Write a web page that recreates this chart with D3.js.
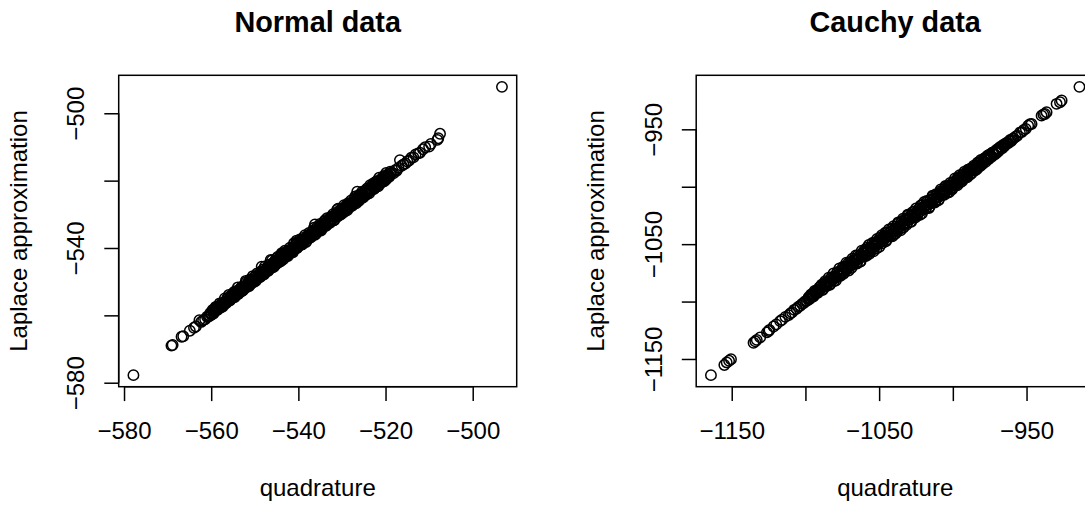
<!DOCTYPE html>
<html>
<head>
<meta charset="utf-8">
<title>Laplace approximation vs quadrature</title>
<script src="https://cdn.jsdelivr.net/npm/d3@7"></script>
<style>
  body { margin: 0; background: #fff; }
  svg { display: block; overflow: hidden; font-family: "Liberation Sans", Arial, Helvetica, sans-serif; }
</style>
</head>
<body>
<svg id="chart" width="1085" height="506"></svg>
<script>
// ---- data (log marginal likelihoods) ----
const titles = ["Normal data", "Cauchy data"];
const xLabel = "quadrature";
const yLabel = "Laplace approximation";

const normalQuad = [
  -577.84, -569.12, -568.85, -566.80, -566.42, -564.90, -563.95, -563.52, -562.70, -562.31, -561.85, -561.40, -560.95, -560.60,
  -560.31, -560.02, -559.86, -559.55, -559.40, -559.08, -558.93, -558.61, -558.47, -558.12,
  -557.96, -557.70, -557.49, -557.22, -557.03, -556.77, -556.55, -556.30, -556.06, -555.88,
  -555.60, -555.41, -555.14, -554.92, -554.71, -554.45, -554.26, -553.99, -553.78, -553.55,
  -553.31, -553.10, -552.84, -552.66, -552.39, -552.18, -551.95, -551.71, -551.50, -551.24,
  -551.03, -550.80, -550.58, -550.33, -550.12, -549.87, -549.66, -549.42, -549.19, -548.97,
  -548.72, -548.50, -548.27, -548.05, -547.81, -547.60, -547.36, -547.13, -546.90, -546.68,
  -546.44, -546.21, -545.99, -545.76, -545.53, -545.31, -545.07, -544.85, -544.62, -544.40,
  -544.16, -543.94, -543.70, -543.48, -543.25, -543.02, -542.79, -542.57, -542.33, -542.11,
  -541.88, -541.65, -541.42, -541.19, -540.97, -540.73, -540.51, -540.27, -540.05, -539.82,
  -539.58, -539.36, -539.13, -538.90, -538.68, -538.44, -538.22, -537.99, -537.76, -537.53,
  -537.30, -537.07, -536.85, -536.61, -536.39, -536.16, -535.93, -535.70, -535.47, -535.24,
  -535.01, -534.79, -534.55, -534.33, -534.10, -533.87, -533.64, -533.42, -533.18, -532.96,
  -532.73, -532.50, -532.27, -532.04, -531.81, -531.59, -531.35, -531.13, -530.89, -530.67,
  -530.44, -530.21, -529.98, -529.75, -529.52, -529.30, -529.06, -528.84, -528.60, -528.38,
  -528.15, -527.92, -527.69, -527.47, -527.23, -527.01, -526.77, -526.55, -526.31, -526.09,
  -525.86, -525.63, -525.40, -525.18, -524.94, -524.72, -524.48, -524.26, -524.02, -523.80,
  -523.57, -523.34, -523.11, -522.88, -522.65, -522.42, -522.19, -521.96, -521.73, -521.50,
  -521.27, -521.04, -520.81, -520.58, -520.35, -520.12, -519.89, -519.66, -519.43, -519.20,
  -518.90, -518.55, -518.20, -517.80, -517.45, -517.05, -516.70, -516.30, -515.90, -515.45,
  -515.00, -514.60, -514.10, -513.60, -513.10, -512.50, -512.10, -511.40, -510.90, -510.00,
  -509.60, -508.10, -507.90, -507.50, -493.29,
  -548.42, -546.35, -543.83, -540.39, -536.19, -530.90, -526.50, -522.20,
  -560.20, -559.93, -559.68, -559.47, -559.19, -558.99, -558.74, -558.52, -558.27, -558.03,
  -557.83, -557.58, -557.35, -557.11, -556.88, -556.66, -556.41, -556.18, -555.97, -555.72,
  -555.49, -555.26, -555.03, -554.80, -554.57, -554.35, -554.11, -553.88, -553.66, -553.42,
  -553.20, -552.97, -552.74, -552.51, -552.28, -552.05, -551.82, -551.59, -551.36, -551.13,
  -550.90, -550.67, -550.44, -550.21, -549.98, -549.75, -549.52, -549.29, -549.06, -548.83,
  -548.60, -548.37, -548.14, -547.91, -547.68, -547.45, -547.22, -546.99, -546.76, -546.53,
  -546.30, -546.07, -545.84, -545.61, -545.38, -545.15, -544.92, -544.69, -544.46, -544.23,
  -544.00, -543.77, -543.54, -543.31, -543.08, -542.85, -542.62, -542.39, -542.16, -541.93,
  -541.70, -541.47, -541.24, -541.01, -540.78, -540.55, -540.32, -540.09, -539.86, -539.63,
  -539.40, -539.17, -538.94, -538.71, -538.48, -538.25, -538.02, -537.79, -537.56, -537.33,
  -537.10, -536.87, -536.64, -536.41, -536.18, -535.95, -535.72, -535.49, -535.26, -535.03,
  -534.80, -534.57, -534.34, -534.11, -533.88, -533.65, -533.42, -533.19, -532.96, -532.73,
  -532.50, -532.27, -532.04, -531.81, -531.58, -531.35, -531.12, -530.89, -530.66, -530.43,
  -530.20, -529.97, -529.74, -529.51, -529.28, -529.05, -528.82, -528.59, -528.36, -528.13,
  -527.90, -527.67, -527.44, -527.21, -526.98, -526.75, -526.52, -526.29, -526.06, -525.83,
  -525.60, -525.37, -525.14, -524.91, -524.68, -524.45, -524.22, -523.99, -523.76, -523.53,
  -523.30, -523.07, -522.84, -522.61, -522.38, -522.15, -521.92, -521.69, -521.46, -521.23,
  -521.00, -520.77, -520.54, -520.31, -520.08, -519.85, -519.62, -519.39, -519.16, -518.93
];
const normalLaplace = [
  -577.76, -568.98, -568.80, -566.35, -566.20, -564.55, -563.70, -563.30, -561.45, -561.95, -561.50, -561.15, -560.40, -560.35,
  -560.11, -559.42, -559.76, -558.65, -559.10, -558.58, -557.73, -558.41, -557.77, -557.72,
  -557.16, -557.60, -556.99, -556.22, -556.73, -556.17, -556.35, -554.90, -555.66, -555.18,
  -555.30, -554.31, -554.64, -554.72, -553.91, -552.85, -553.86, -553.09, -553.68, -552.95,
  -552.01, -552.90, -552.14, -552.26, -551.39, -551.88, -550.15, -551.21, -550.60, -551.04,
  -550.43, -549.60, -550.28, -549.53, -550.02, -548.37, -549.16, -548.42, -548.79, -548.27,
  -548.52, -547.40, -547.67, -546.35, -547.51, -546.70, -546.86, -545.83, -546.80, -545.88,
  -546.04, -545.21, -545.79, -544.36, -544.83, -545.01, -543.17, -544.25, -543.52, -544.20,
  -543.26, -543.44, -542.50, -543.38, -542.55, -541.42, -542.49, -541.57, -541.83, -540.81,
  -541.68, -540.85, -539.92, -540.79, -539.87, -540.13, -538.51, -539.97, -539.15, -538.62,
  -539.08, -537.66, -538.93, -537.90, -538.08, -537.14, -538.12, -537.19, -536.26, -537.13,
  -536.20, -536.77, -535.95, -534.81, -535.89, -534.96, -535.73, -535.00, -534.07, -534.84,
  -534.21, -533.19, -534.25, -533.33, -533.50, -531.77, -533.44, -532.12, -532.48, -532.56,
  -531.53, -532.00, -531.37, -530.54, -531.71, -530.79, -530.25, -530.73, -529.19, -530.07,
  -530.14, -529.21, -529.28, -528.35, -529.32, -528.40, -527.46, -528.34, -527.50, -528.08,
  -526.85, -527.32, -527.49, -526.47, -526.43, -525.11, -526.37, -525.35, -525.61, -525.99,
  -524.96, -524.13, -524.90, -524.08, -524.64, -523.02, -523.68, -524.06, -522.72, -523.20,
  -522.57, -522.94, -521.51, -522.18, -522.45, -521.22, -521.69, -520.16, -520.83, -521.20,
  -520.47, -519.64, -520.51, -519.48, -519.75, -518.62, -519.69, -518.76, -518.23, -518.70,
  -518.10, -517.60, -517.85, -516.90, -517.05, -516.20, -513.90, -515.60, -515.20, -514.90,
  -514.30, -514.00, -513.20, -513.10, -512.20, -511.90, -511.70, -510.70, -510.10, -509.90,
  -509.10, -507.90, -507.40, -506.10, -492.15,
  -545.55, -543.56, -541.57, -537.80, -533.00, -528.30, -523.30, -520.30,
  -559.30, -559.63, -558.38, -559.47, -558.49, -557.49, -558.34, -557.52, -558.07, -556.43,
  -557.33, -556.38, -557.35, -556.31, -554.98, -556.36, -555.31, -555.58, -553.97, -555.62,
  -554.09, -554.86, -554.13, -553.10, -554.57, -553.15, -553.51, -551.68, -553.36, -552.42,
  -552.60, -551.47, -552.64, -551.41, -551.58, -549.75, -551.42, -550.29, -551.36, -549.33,
  -550.60, -549.67, -548.34, -549.71, -548.58, -549.75, -547.62, -548.49, -547.86, -548.63,
  -547.00, -547.97, -547.14, -547.91, -545.48, -546.75, -545.92, -546.79, -544.96, -546.03,
  -545.10, -543.67, -545.24, -545.61, -543.88, -544.25, -544.62, -542.59, -543.66, -542.63,
  -543.90, -541.87, -542.84, -542.01, -540.78, -542.45, -540.92, -542.39, -541.06, -539.93,
  -541.10, -540.27, -541.24, -538.61, -539.88, -539.05, -540.02, -538.29, -539.36, -537.43,
  -538.40, -538.97, -537.04, -538.11, -536.18, -538.25, -536.62, -537.09, -535.56, -536.23,
  -536.70, -535.27, -535.74, -534.01, -536.08, -534.65, -533.72, -534.99, -534.26, -532.83,
  -534.80, -533.17, -533.64, -532.21, -532.78, -533.35, -531.12, -532.39, -531.46, -532.53,
  -530.70, -531.67, -529.94, -531.81, -530.28, -530.45, -528.72, -530.49, -529.66, -528.83,
  -530.00, -528.27, -528.94, -527.31, -528.78, -527.85, -528.82, -526.69, -527.66, -526.73,
  -525.90, -527.37, -526.34, -526.61, -524.68, -526.75, -525.02, -525.39, -524.26, -525.43,
  -524.40, -523.27, -525.04, -523.31, -523.88, -524.05, -522.32, -522.99, -523.76, -521.33,
  -522.70, -521.77, -520.84, -522.41, -521.28, -521.45, -520.42, -521.69, -519.16, -520.33,
  -519.60, -520.27, -518.74, -520.21, -519.08, -517.75, -519.02, -518.09, -518.86, -517.33
];

const cauchyQuad = [
  -1164.1, -1155.0, -1153.4, -1151.8, -1150.5, -1135.2, -1134.0, -1133.0, -1130.7, -1126.1,
  -1125.0, -1124.4, -1121.6, -1119.8, -1117.2, -1115.9, -1113.6, -1111.3, -1110.2, -1109.1,
  -1107.6, -1106.0, -1104.9, -1103.5, -1102.3, -1101.1, -1100.2, -1099.0,
  -1098.2, -1097.4, -1096.7, -1095.8, -1095.1, -1094.2, -1093.5, -1092.6, -1091.8, -1091.1,
  -1090.2, -1089.5, -1088.6, -1087.9, -1087.0, -1086.3, -1085.4, -1084.7, -1083.8, -1083.1,
  -1082.2, -1081.5, -1080.6, -1079.9, -1079.0, -1078.3, -1077.4, -1076.7, -1075.8, -1075.1,
  -1074.2, -1073.5, -1072.6, -1071.9, -1071.0, -1070.3, -1069.4, -1068.7, -1067.8, -1067.1,
  -1066.2, -1065.5, -1064.6, -1063.9, -1063.0, -1062.3, -1061.4, -1060.7, -1059.8, -1059.1,
  -1058.2, -1057.5, -1056.6, -1055.9, -1055.0, -1054.3, -1053.4, -1052.7, -1051.8, -1051.1,
  -1050.2, -1049.5, -1048.6, -1047.9, -1047.0, -1046.3, -1045.4, -1044.7, -1043.8, -1043.1,
  -1042.2, -1041.5, -1040.6, -1039.9, -1039.0, -1038.3, -1037.4, -1036.7, -1035.8, -1035.1,
  -1034.2, -1033.5, -1032.6, -1031.9, -1031.0, -1030.3, -1029.4, -1028.7, -1027.8, -1027.1,
  -1026.2, -1025.5, -1024.6, -1023.9, -1023.0, -1022.3, -1021.4, -1020.7, -1019.8, -1019.1,
  -1018.2, -1017.5, -1016.6, -1015.9, -1015.0, -1014.3, -1013.4, -1012.7, -1011.8, -1011.1,
  -1010.2, -1009.5, -1008.6, -1007.9, -1007.0, -1006.3, -1005.4, -1004.7, -1003.8, -1003.1,
  -1002.2, -1001.5, -1000.6, -999.9, -999.0, -998.3, -997.4, -996.7, -995.8, -995.1,
  -994.2, -993.5, -992.6, -991.9, -991.0, -990.3, -989.4, -988.7, -987.8, -987.1,
  -986.2, -985.4, -984.7, -983.8, -983.0, -982.1, -981.4, -980.5, -979.7, -978.8,
  -978.0, -977.1, -976.3, -975.4, -974.6, -973.7, -972.9, -972.0, -971.1, -970.2,
  -969.3, -968.4, -967.4, -966.5, -965.5, -964.4, -963.4, -962.3, -961.1, -960.0,
  -958.8, -957.5, -956.3, -954.5, -953.2, -951.9, -950.5, -948.9, -947.7, -946.6,
  -939.8, -938.6, -937.5, -936.4, -929.6, -927.3, -926.2, -914.1,
  -1097.8, -1097.0, -1096.2, -1095.4, -1094.6, -1093.8, -1093.0, -1092.2, -1091.4, -1090.6,
  -1089.8, -1089.0, -1088.2, -1087.4, -1086.6, -1085.8, -1085.0, -1084.2, -1083.4, -1082.6,
  -1081.8, -1081.0, -1080.2, -1079.4, -1078.6, -1077.8, -1077.0, -1076.2, -1075.4, -1074.6,
  -1073.8, -1073.0, -1072.2, -1071.4, -1070.6, -1069.8, -1069.0, -1068.2, -1067.4, -1066.6,
  -1065.8, -1065.0, -1064.2, -1063.4, -1062.6, -1061.8, -1061.0, -1060.2, -1059.4, -1058.6,
  -1057.8, -1057.0, -1056.2, -1055.4, -1054.6, -1053.8, -1053.0, -1052.2, -1051.4, -1050.6,
  -1049.8, -1049.0, -1048.2, -1047.4, -1046.6, -1045.8, -1045.0, -1044.2, -1043.4, -1042.6,
  -1041.8, -1041.0, -1040.2, -1039.4, -1038.6, -1037.8, -1037.0, -1036.2, -1035.4, -1034.6,
  -1033.8, -1033.0, -1032.2, -1031.4, -1030.6, -1029.8, -1029.0, -1028.2, -1027.4, -1026.6,
  -1025.8, -1025.0, -1024.2, -1023.4, -1022.6, -1021.8, -1021.0, -1020.2, -1019.4, -1018.6,
  -1017.8, -1017.0, -1016.2, -1015.4, -1014.6, -1013.8, -1013.0, -1012.2, -1011.4, -1010.6,
  -1009.8, -1009.0, -1008.2, -1007.4, -1006.6, -1005.8, -1005.0, -1004.2, -1003.4, -1002.6,
  -1001.8, -1001.0, -1000.2, -999.4, -998.6, -997.8, -997.0, -996.2, -995.4, -994.6,
  -993.8, -993.0, -992.2, -991.4, -990.6, -989.8, -989.0, -988.2, -987.4, -986.6,
  -985.8, -985.0, -984.2, -983.4, -982.6, -981.8, -981.0, -980.2, -979.3, -978.4,
  -977.5, -976.7, -975.8, -975.0, -974.1, -973.3, -972.4, -971.6, -970.7, -969.8,
  -968.9, -967.9, -966.9, -966.0, -964.9, -963.9, -962.8, -961.7, -960.6, -959.4
];
const cauchyLaplace = [
  -1164.1, -1155.2, -1153.0, -1151.6, -1150.2, -1135.9, -1134.6, -1133.4, -1131.2, -1126.8,
  -1125.6, -1124.7, -1121.7, -1119.9, -1117.0, -1115.9, -1113.3, -1111.8, -1110.3, -1109.4,
  -1107.2, -1106.3, -1104.6, -1103.6, -1102.0, -1101.3, -1099.8, -1099.3,
  -1097.8, -1098.0, -1095.5, -1095.7, -1093.3, -1094.5, -1092.6, -1090.3, -1092.6, -1089.6,
  -1090.0, -1086.8, -1089.7, -1086.9, -1083.9, -1085.8, -1085.8, -1082.7, -1082.5, -1084.4,
  -1078.8, -1080.9, -1082.1, -1077.7, -1079.0, -1074.3, -1076.3, -1077.6, -1073.0, -1074.8,
  -1075.9, -1069.9, -1071.2, -1072.1, -1066.6, -1069.5, -1066.9, -1070.6, -1063.9, -1067.0,
  -1064.2, -1066.7, -1059.8, -1062.3, -1065.1, -1059.3, -1061.0, -1056.5, -1060.5, -1056.5,
  -1053.2, -1056.6, -1058.4, -1052.6, -1053.1, -1054.8, -1048.8, -1050.5, -1053.8, -1047.4,
  -1049.5, -1044.3, -1046.2, -1049.3, -1043.2, -1045.2, -1047.6, -1040.2, -1043.6, -1040.2,
  -1043.2, -1036.6, -1039.1, -1036.7, -1040.9, -1037.7, -1032.3, -1034.7, -1036.4, -1031.6,
  -1032.9, -1035.5, -1028.3, -1029.2, -1031.3, -1025.0, -1028.5, -1030.3, -1024.2, -1025.3,
  -1021.5, -1026.8, -1022.5, -1023.9, -1019.1, -1024.4, -1019.7, -1015.8, -1019.4, -1016.5,
  -1019.0, -1013.4, -1015.4, -1017.6, -1011.6, -1013.8, -1008.4, -1010.4, -1012.9, -1008.1,
  -1009.4, -1011.1, -1004.2, -1006.0, -1007.2, -1002.6, -1005.1, -999.9, -1005.2, -1000.9,
  -999.1, -1001.4, -1002.4, -995.9, -997.6, -999.0, -994.6, -992.2, -995.2, -996.3,
  -991.7, -989.3, -993.0, -990.3, -987.5, -991.8, -988.5, -984.8, -986.0, -988.0,
  -983.2, -985.1, -982.5, -984.9, -978.9, -981.1, -981.9, -977.8, -979.1, -975.4,
  -978.6, -975.1, -975.9, -972.1, -973.4, -974.0, -970.3, -971.2, -969.2, -970.4,
  -966.9, -967.9, -965.7, -966.5, -963.4, -963.5, -961.9, -962.0, -959.3, -959.3,
  -957.9, -956.4, -955.6, -952.9, -952.4, -950.6, -949.6, -946.8, -945.6, -945.3,
  -938.1, -937.0, -936.6, -935.1, -927.8, -926.4, -924.9, -913.0,
  -1096.2, -1097.2, -1093.8, -1094.6, -1095.6, -1090.8, -1092.7, -1090.3, -1091.9, -1087.8,
  -1089.3, -1085.4, -1089.8, -1085.3, -1082.3, -1086.6, -1083.8, -1079.2, -1085.4, -1079.7,
  -1081.4, -1075.6, -1078.4, -1081.8, -1075.1, -1077.7, -1071.2, -1077.5, -1073.2, -1069.9,
  -1074.7, -1070.4, -1066.2, -1070.9, -1072.9, -1065.9, -1067.7, -1062.7, -1067.5, -1064.3,
  -1059.9, -1066.9, -1063.2, -1060.0, -1065.2, -1055.7, -1060.8, -1058.2, -1054.6, -1060.1,
  -1055.1, -1050.8, -1056.6, -1054.0, -1049.0, -1056.2, -1049.9, -1051.6, -1045.5, -1048.8,
  -1052.3, -1046.0, -1042.2, -1047.4, -1044.4, -1040.1, -1046.2, -1042.6, -1037.3, -1042.9,
  -1039.2, -1043.2, -1034.4, -1038.6, -1034.8, -1039.2, -1031.0, -1035.2, -1038.0, -1030.2,
  -1027.9, -1032.6, -1029.3, -1033.2, -1024.4, -1028.6, -1025.4, -1030.6, -1022.2, -1026.6,
  -1023.4, -1019.0, -1025.2, -1020.1, -1021.8, -1016.3, -1023.3, -1018.2, -1013.3, -1019.2,
  -1012.4, -1015.4, -1018.6, -1011.4, -1014.4, -1007.8, -1010.4, -1013.7, -1006.6, -1009.6,
  -1011.8, -1005.8, -1002.3, -1007.0, -1004.6, -1007.0, -999.4, -1002.8, -999.6, -1004.8,
  -996.7, -999.2, -1001.2, -996.0, -992.8, -997.6, -998.8, -993.3, -990.0, -993.6,
  -995.2, -990.0, -987.0, -990.8, -991.2, -985.2, -987.0, -989.4, -983.8, -985.4,
  -981.6, -985.8, -982.6, -979.6, -982.6, -979.4, -976.6, -980.6, -977.9, -975.4,
  -976.5, -973.3, -976.0, -972.8, -973.7, -970.4, -970.8, -972.0, -968.1, -968.6,
  -968.9, -965.3, -965.9, -963.8, -964.5, -962.0, -962.0, -960.3, -960.4, -958.2
];

// ticks and which of them R could fit a label under
const normalTicks = [-580, -560, -540, -520, -500];
const normalXLabelled = [-580, -560, -540, -520, -500];
const normalYLabelled = [-580, -540, -500];
const cauchyTicks = [-1150, -1100, -1050, -1000, -950];
const cauchyXLabelled = [-1150, -1050, -950];
const cauchyYLabelled = [-1150, -1050, -950];

// ---- layout (R base graphics, 24px text, 28.8px lines) ----
const lineH = 28.8;
const figW = 577.5;              // width of one figure region; the 2nd is cut by the page edge
const box = { left: 118.7, right: 516.7, top: 75.3, bottom: 386.7 };

const svg = d3.select("#chart");

function padded(values) {
  const [lo, hi] = d3.extent(values);
  const p = (hi - lo) * 0.04;
  return [lo - p, hi + p];
}

const minus = v => String(v).replace("-", "\u2212");

function drawPanel(offsetX, title, quad, lap, ticks, xLab, yLab) {
  const g = svg.append("g").attr("transform", `translate(${offsetX},0)`);

  const x = d3.scaleLinear().domain(padded(quad)).range([box.left, box.right]);
  const y = d3.scaleLinear().domain(padded(lap)).range([box.bottom, box.top]);

  const pts = quad.map((q, i) => ({ q: q, l: lap[i] }));

  // points (pch = 1)
  g.append("g").selectAll("circle")
    .data(pts)
    .enter().append("circle")
    .attr("cx", d => x(d.q))
    .attr("cy", d => y(d.l))
    .attr("r", 5.2)
    .attr("fill", "none")
    .attr("stroke", "#000")
    .attr("stroke-width", 1.5);

  // frame
  g.append("rect")
    .attr("x", box.left).attr("y", box.top)
    .attr("width", box.right - box.left).attr("height", box.bottom - box.top)
    .attr("fill", "none").attr("stroke", "#000").attr("stroke-width", 1.5);

  // x axis
  const xa = g.append("g").attr("transform", `translate(0,${box.bottom})`)
    .call(d3.axisBottom(x).tickValues(ticks).tickSize(0.5 * lineH)
      .tickFormat(d => xLab.includes(d) ? minus(d) : ""));
  xa.select(".domain").remove();
  xa.append("line")
    .attr("x1", x(ticks[0])).attr("x2", x(ticks[ticks.length - 1]))
    .attr("stroke", "#000").attr("stroke-width", 1.5);
  xa.selectAll(".tick line").attr("stroke", "#000").attr("stroke-width", 1.5);
  xa.selectAll(".tick text")
    .attr("y", 1.8 * lineH).attr("dy", 0)
    .attr("fill", "#000").attr("font-size", 24)
    .attr("font-family", "Liberation Sans, Arial, sans-serif");

  // y axis
  const ya = g.append("g").attr("transform", `translate(${box.left},0)`)
    .call(d3.axisLeft(y).tickValues(ticks).tickSize(0.5 * lineH)
      .tickFormat(d => yLab.includes(d) ? minus(d) : ""));
  ya.select(".domain").remove();
  ya.append("line")
    .attr("y1", y(ticks[0])).attr("y2", y(ticks[ticks.length - 1]))
    .attr("stroke", "#000").attr("stroke-width", 1.5);
  ya.selectAll(".tick line").attr("stroke", "#000").attr("stroke-width", 1.5);
  ya.selectAll(".tick text")
    .attr("x", 0).attr("dy", 0)
    .attr("transform", `translate(${-1.2 * lineH},0) rotate(-90)`)
    .attr("text-anchor", "middle")
    .attr("fill", "#000").attr("font-size", 24)
    .attr("font-family", "Liberation Sans, Arial, sans-serif");

  const cx = (box.left + box.right) / 2;
  const cy = (box.top + box.bottom) / 2;

  // titles
  g.append("text")
    .attr("x", cx).attr("y", 32)
    .attr("text-anchor", "middle")
    .attr("font-size", 28.8).attr("font-weight", "bold")
    .text(title);

  g.append("text")
    .attr("x", cx).attr("y", box.bottom + 3.8 * lineH)
    .attr("text-anchor", "middle")
    .attr("font-size", 24)
    .text(xLabel);

  g.append("text")
    .attr("transform", `translate(${box.left - 3.2 * lineH},${cy}) rotate(-90)`)
    .attr("text-anchor", "middle")
    .attr("font-size", 24)
    .text(yLabel);
}

drawPanel(0, titles[0], normalQuad, normalLaplace, normalTicks, normalXLabelled, normalYLabelled);
drawPanel(figW, titles[1], cauchyQuad, cauchyLaplace, cauchyTicks, cauchyXLabelled, cauchyYLabelled);
</script>
</body>
</html>
